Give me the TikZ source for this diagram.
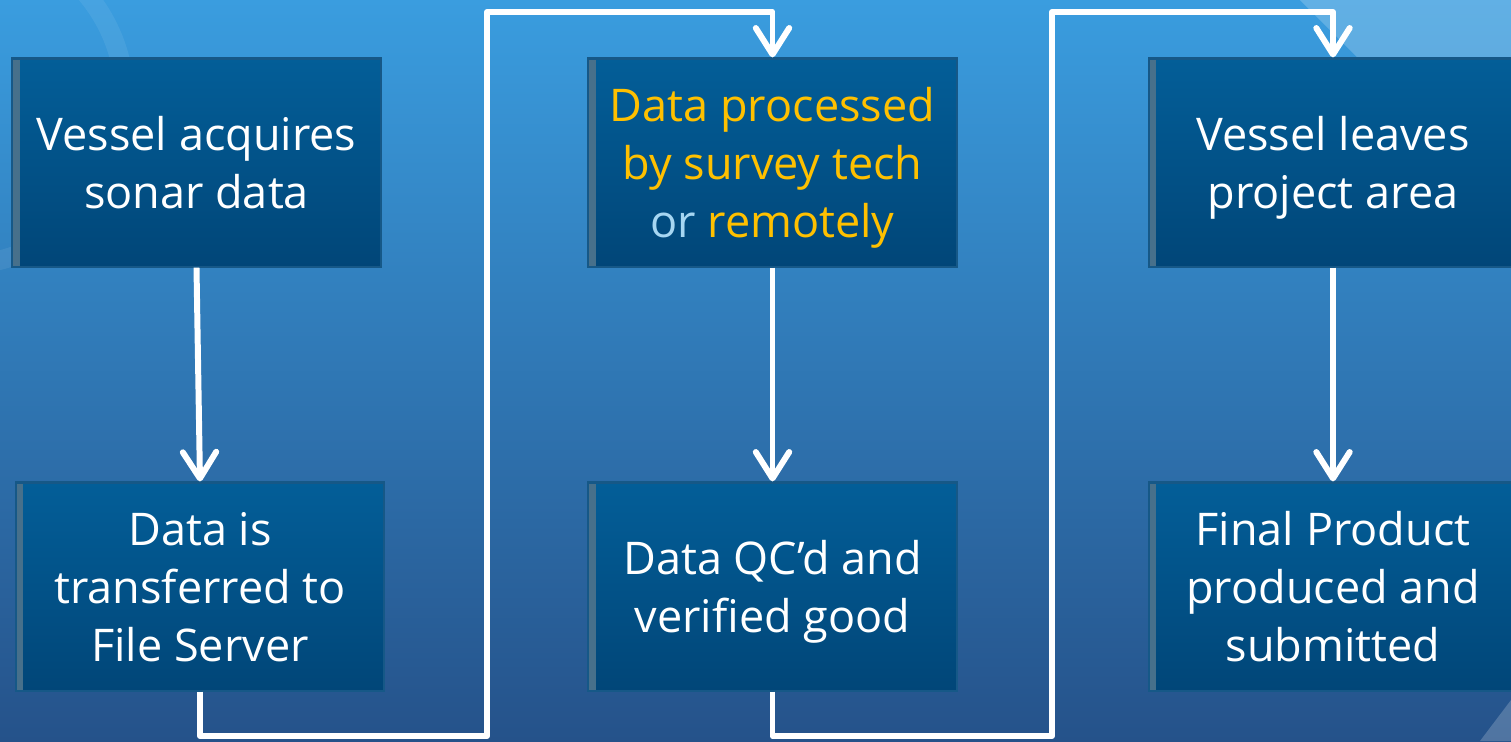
\documentclass[tikz,border=0pt]{standalone}
\usepackage{fontspec}
\setmainfont{Open Sans}
\usetikzlibrary{arrows.meta}

\definecolor{bgtop}{RGB}{58,157,223}
\definecolor{bgbot}{RGB}{37,82,138}
\definecolor{boxtop}{RGB}{3,94,152}
\definecolor{boxbot}{RGB}{1,70,120}
\definecolor{boxline}{RGB}{22,88,135}
\definecolor{hiyellow}{RGB}{255,192,0}
\definecolor{lightblue}{RGB}{166,214,242}

\tikzset{
	stepbox/.style={rectangle, draw=boxline, line width=0.6pt,
		top color=boxtop, bottom color=boxbot,
		minimum width=3.68cm, minimum height=2.08cm, inner sep=0pt,
		align=center, text=white, font=\fontsize{12.8}{16.5}\selectfont,
		text depth=-1.5pt,
		path picture={\shade[left color=gray!55!boxtop, right color=boxtop!70!boxbot]
			(path picture bounding box.south west) rectangle
			([xshift=0.07cm]path picture bounding box.north west);}},
	flow/.style={draw=white, line width=1.7pt, line join=round,
		-{Straight Barb[length=7.5pt,width=9.5pt,round]}}
}

\begin{document}
\begin{tikzpicture}[x=0.01cm, y=-0.01cm]
	\useasboundingbox (0,0) rectangle (1511,741);
	\clip (0,0) rectangle (1511,741);

	%% Background
	\fill[top color=bgtop, bottom color=bgbot] (0,0) rectangle (1511,741);
	\fill[white, opacity=0.2] (1300,0) -- (1511,0) -- (1511,211) -- cycle;
	\fill[white, opacity=0.2] (1480,741) -- (1511,700) -- (1511,741) -- cycle;
	\draw[white, opacity=0.07, line width=5.5pt] (-40,100) circle (165);

	%% Steps
	\node[stepbox] (acquire) at (196.5,162.5) {Vessel acquires\\sonar data};
	\node[stepbox] (transfer) at (200,586.5) {Data is\\transferred to\\File Server};
	\node[stepbox] (process) at (772.5,162.5)
		{\color{hiyellow}Data processed\\\color{hiyellow}by survey tech\\{\color{lightblue}or} {\color{hiyellow}remotely}};
	\node[stepbox] (verify) at (772.5,586.5) {Data QC’d and\\verified good};
	\node[stepbox] (leave) at (1333,162.5) {Vessel leaves\\project area};
	\node[stepbox] (final) at (1333,586.5) {Final Product\\produced and\\submitted};

	%% Bends
	\coordinate (low1) at (487,736);
	\coordinate (top1) at (487,12);
	\coordinate (low2) at (1052,736);
	\coordinate (top2) at (1052,12);

	%% Flow
	\draw[flow] (acquire.south) -- (transfer.north);
	\draw[flow] (transfer.south) |- (low1) -- (top1) -| (process.north);
	\draw[flow] (process.south) -- (verify.north);
	\draw[flow] (verify.south) |- (low2) -- (top2) -| (leave.north);
	\draw[flow] (leave.south) -- (final.north);

\end{tikzpicture}
\end{document}
